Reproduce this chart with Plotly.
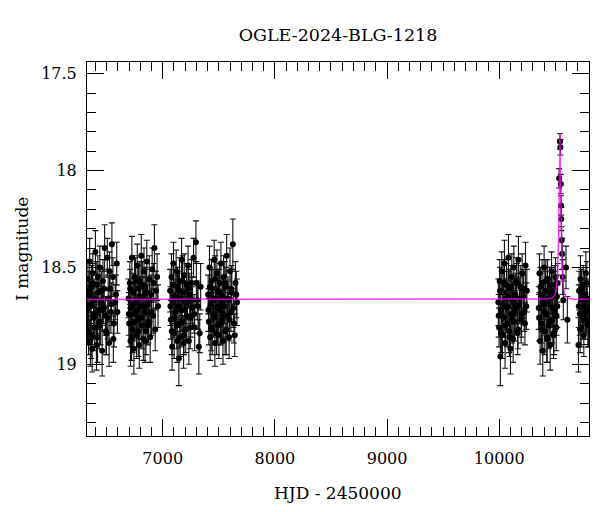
import plotly.graph_objects as go

# ---- photometry (HJD-2450000, I mag, error) ----
hjd_s1 = [6328, 6333, 6339, 6344, 6349, 6355, 6360, 6366, 6371, 6377, 6383, 6388, 6394, 6400, 6406, 6412, 6419, 6425, 6432, 6439,
          6446, 6453, 6460, 6467, 6474, 6482, 6490, 6498, 6506, 6514, 6522, 6530, 6538, 6547, 6556, 6566, 6577, 6590,
          6330, 6342, 6352, 6363, 6374, 6385, 6397, 6409, 6422, 6435, 6449, 6463, 6478, 6494, 6510, 6526, 6542, 6560, 6583, 6596]
mag_s1 = [18.71, 18.56, 18.83, 18.64, 18.47, 18.88, 18.69, 18.60, 18.92, 18.53, 18.76, 18.67, 18.81, 18.42, 18.74, 18.59, 18.86, 18.63, 18.72, 18.50,
          18.78, 18.62, 18.93, 18.57, 18.70, 18.40, 18.75, 18.84, 18.45, 18.66, 18.89, 18.61, 18.73, 18.38, 18.55, 18.79, 18.68, 18.48,
          18.78, 18.62, 18.70, 18.85, 18.58, 18.74, 18.66, 18.90, 18.55, 18.80, 18.68, 18.72, 18.61, 18.83, 18.76, 18.52, 18.69, 18.87, 18.64, 18.73]
err_s1 = [0.11, 0.10, 0.12, 0.09, 0.12, 0.13, 0.10, 0.11, 0.12, 0.10, 0.11, 0.09, 0.12, 0.11, 0.10, 0.12, 0.13, 0.09, 0.10, 0.11,
          0.12, 0.10, 0.13, 0.11, 0.09, 0.12, 0.10, 0.11, 0.10, 0.12, 0.12, 0.09, 0.11, 0.11, 0.10, 0.12, 0.09, 0.11,
          0.12, 0.10, 0.11, 0.12, 0.10, 0.11, 0.10, 0.13, 0.11, 0.12, 0.10, 0.11, 0.10, 0.12, 0.11, 0.10, 0.11, 0.12, 0.10, 0.11]

hjd_s2 = [6695, 6701, 6707, 6713, 6719, 6725, 6731, 6737, 6743, 6749, 6755, 6761, 6767, 6773, 6779, 6785, 6791, 6797, 6803, 6809,
          6815, 6821, 6827, 6833, 6839, 6845, 6851, 6858, 6865, 6872, 6880, 6888, 6897, 6906, 6915, 6926, 6940, 6958,
          6698, 6710, 6722, 6734, 6746, 6758, 6770, 6782, 6794, 6806, 6818, 6830, 6842, 6855, 6868, 6884, 6900, 6920, 6933, 6950]
mag_s2 = [18.66, 18.79, 18.58, 18.88, 18.71, 18.45, 18.82, 18.63, 18.92, 18.55, 18.74, 18.68, 18.85, 18.49, 18.77, 18.61, 18.90, 18.57, 18.70, 18.44,
          18.80, 18.65, 18.87, 18.52, 18.73, 18.60, 18.83, 18.47, 18.69, 18.78, 18.56, 18.86, 18.64, 18.51, 18.75, 18.40, 18.62, 18.70,
          18.74, 18.61, 18.86, 18.69, 18.78, 18.57, 18.72, 18.83, 18.65, 18.76, 18.59, 18.70, 18.88, 18.63, 18.80, 18.67, 18.73, 18.58, 18.82, 18.55]
err_s2 = [0.10, 0.12, 0.11, 0.13, 0.09, 0.11, 0.12, 0.10, 0.13, 0.11, 0.10, 0.09, 0.12, 0.11, 0.10, 0.12, 0.12, 0.10, 0.09, 0.11,
          0.12, 0.10, 0.11, 0.12, 0.09, 0.10, 0.12, 0.11, 0.10, 0.11, 0.12, 0.13, 0.10, 0.11, 0.09, 0.12, 0.10, 0.11,
          0.11, 0.10, 0.12, 0.11, 0.10, 0.12, 0.11, 0.13, 0.10, 0.11, 0.12, 0.10, 0.11, 0.12, 0.10, 0.11, 0.12, 0.10, 0.11, 0.12]

hjd_s3 = [7066, 7072, 7078, 7084, 7090, 7096, 7102, 7108, 7114, 7120, 7126, 7132, 7138, 7144, 7150, 7156, 7162, 7168, 7174, 7180,
          7186, 7192, 7198, 7205, 7212, 7219, 7226, 7233, 7241, 7249, 7257, 7266, 7275, 7285, 7296, 7308, 7322, 7338,
          7069, 7081, 7093, 7105, 7117, 7129, 7141, 7153, 7165, 7177, 7189, 7201, 7215, 7229, 7245, 7261, 7280, 7300, 7315, 7330]
mag_s3 = [18.62, 18.77, 18.55, 18.91, 18.68, 18.48, 18.84, 18.65, 18.73, 18.52, 18.80, 18.60, 18.70, 18.97, 18.57, 18.86, 18.66, 18.46, 18.78, 18.63,
          18.89, 18.54, 18.72, 18.82, 18.59, 18.68, 18.49, 18.88, 18.64, 18.76, 18.58, 18.71, 18.45, 18.81, 18.37, 18.67, 18.91, 18.60,
          18.70, 18.83, 18.59, 18.76, 18.66, 18.88, 18.62, 18.79, 18.72, 18.57, 18.85, 18.68, 18.75, 18.61, 18.81, 18.67, 18.74, 18.58, 18.70, 18.84]
err_s3 = [0.11, 0.10, 0.12, 0.12, 0.10, 0.11, 0.13, 0.09, 0.10, 0.11, 0.12, 0.10, 0.11, 0.14, 0.12, 0.10, 0.09, 0.11, 0.12, 0.10,
          0.13, 0.11, 0.10, 0.12, 0.11, 0.09, 0.10, 0.12, 0.11, 0.10, 0.12, 0.11, 0.10, 0.12, 0.11, 0.10, 0.14, 0.12,
          0.10, 0.12, 0.11, 0.10, 0.12, 0.11, 0.10, 0.12, 0.11, 0.13, 0.10, 0.11, 0.12, 0.10, 0.11, 0.12, 0.10, 0.11, 0.12, 0.10]

hjd_s4 = [7405, 7411, 7417, 7423, 7429, 7435, 7441, 7447, 7453, 7459, 7465, 7471, 7477, 7483, 7489, 7495, 7501, 7507, 7513, 7519,
          7525, 7531, 7537, 7543, 7549, 7556, 7563, 7570, 7577, 7584, 7592, 7600, 7608, 7616, 7625, 7635, 7648, 7662,
          7408, 7420, 7432, 7444, 7456, 7468, 7480, 7492, 7504, 7516, 7528, 7540, 7553, 7566, 7580, 7596, 7612, 7630, 7642, 7656]
mag_s4 = [18.64, 18.78, 18.50, 18.86, 18.69, 18.57, 18.82, 18.61, 18.74, 18.46, 18.89, 18.66, 18.71, 18.53, 18.80, 18.62, 18.85, 18.58, 18.72, 18.48,
          18.77, 18.65, 18.88, 18.55, 18.70, 18.83, 18.60, 18.44, 18.75, 18.67, 18.86, 18.52, 18.73, 18.63, 18.38, 18.79, 18.58, 18.68,
          18.72, 18.60, 18.81, 18.67, 18.76, 18.56, 18.84, 18.70, 18.63, 18.79, 18.68, 18.74, 18.58, 18.82, 18.66, 18.77, 18.61, 18.71, 18.85, 18.64]
err_s4 = [0.10, 0.12, 0.11, 0.12, 0.09, 0.11, 0.13, 0.10, 0.11, 0.10, 0.12, 0.09, 0.11, 0.12, 0.10, 0.11, 0.12, 0.10, 0.09, 0.11,
          0.12, 0.10, 0.12, 0.11, 0.09, 0.12, 0.10, 0.11, 0.12, 0.10, 0.11, 0.12, 0.10, 0.11, 0.13, 0.10, 0.11, 0.12,
          0.11, 0.10, 0.12, 0.11, 0.10, 0.12, 0.11, 0.10, 0.12, 0.11, 0.10, 0.12, 0.11, 0.13, 0.10, 0.11, 0.12, 0.10, 0.11, 0.12]

hjd_s5 = [9992, 9998, 10004, 10010, 10016, 10022, 10028, 10034, 10040, 10046, 10052, 10058, 10064, 10070, 10076, 10082, 10088, 10094, 10100, 10106,
          10112, 10118, 10124, 10130, 10136, 10143, 10150, 10157, 10164, 10171, 10179, 10187, 10195, 10204, 10213, 10223, 10234, 10246,
          9995, 10007, 10019, 10031, 10043, 10055, 10067, 10079, 10091, 10103, 10115, 10127, 10139, 10153, 10167, 10183, 10199, 10218, 10229, 10241]
mag_s5 = [18.68, 18.81, 18.57, 18.96, 18.72, 18.52, 18.85, 18.63, 18.76, 18.48, 18.89, 18.66, 18.59, 18.79, 18.70, 18.45, 18.83, 18.61, 18.92, 18.74,
          18.55, 18.67, 18.87, 18.50, 18.78, 18.64, 18.71, 18.58, 18.84, 18.46, 18.69, 18.60, 18.77, 18.53, 18.65, 18.73, 18.49, 18.62,
          18.75, 18.62, 18.84, 18.69, 18.58, 18.80, 18.71, 18.65, 18.86, 18.60, 18.77, 18.68, 18.73, 18.57, 18.82, 18.66, 18.74, 18.61, 18.79, 18.70]
err_s5 = [0.12, 0.10, 0.11, 0.15, 0.11, 0.10, 0.12, 0.11, 0.10, 0.12, 0.13, 0.10, 0.11, 0.12, 0.10, 0.12, 0.11, 0.10, 0.13, 0.11,
          0.12, 0.10, 0.12, 0.11, 0.10, 0.11, 0.12, 0.10, 0.11, 0.12, 0.10, 0.11, 0.12, 0.10, 0.11, 0.10, 0.12, 0.11,
          0.11, 0.12, 0.10, 0.11, 0.12, 0.10, 0.11, 0.13, 0.10, 0.11, 0.12, 0.10, 0.11, 0.12, 0.10, 0.11, 0.12, 0.10, 0.11, 0.12]

hjd_s6 = [10352, 10358, 10364, 10370, 10376, 10382, 10388, 10394, 10400, 10406, 10412, 10418, 10424, 10430, 10436, 10442, 10448, 10454, 10460, 10466,
          10472, 10478, 10484, 10490, 10496, 10502, 10508, 10514, 10520,
          10355, 10367, 10379, 10391, 10403, 10415, 10427, 10439, 10451, 10463, 10475, 10487, 10499, 10511, 10517]
mag_s6 = [18.71, 18.53, 18.88, 18.64, 18.79, 18.58, 18.93, 18.67, 18.50, 18.83, 18.62, 18.74, 18.87, 18.56, 18.69, 18.80, 18.60, 18.90, 18.66, 18.52,
          18.77, 18.63, 18.85, 18.59, 18.72, 18.55, 18.81, 18.65, 18.58,
          18.76, 18.60, 18.82, 18.69, 18.73, 18.57, 18.86, 18.66, 18.78, 18.62, 18.71, 18.84, 18.64, 18.75, 18.70]
err_s6 = [0.11, 0.10, 0.12, 0.11, 0.10, 0.12, 0.13, 0.10, 0.11, 0.12, 0.10, 0.11, 0.12, 0.10, 0.11, 0.12, 0.10, 0.13, 0.11, 0.10,
          0.12, 0.11, 0.12, 0.10, 0.11, 0.10, 0.12, 0.11, 0.10,
          0.12, 0.10, 0.11, 0.12, 0.10, 0.11, 0.13, 0.10, 0.11, 0.12, 0.10, 0.11, 0.12, 0.10, 0.11]

# points on the magnification peak
hjd_ev = [10534, 10541, 10545, 10549, 10551, 10553, 10556, 10561, 10566, 10571, 10595, 10607]
mag_ev = [18.04, 17.85, 17.88, 18.07, 18.18, 18.25, 18.36, 18.43, 18.55, 18.67, 18.50, 18.77]
err_ev = [0.05, 0.04, 0.04, 0.05, 0.05, 0.06, 0.07, 0.08, 0.09, 0.10, 0.11, 0.12]

hjd_s7 = [10706, 10712, 10718, 10724, 10730, 10736, 10742, 10748, 10754, 10760, 10766, 10772, 10778, 10784, 10790,
          10709, 10721, 10733, 10745, 10757, 10769, 10781, 10795]
mag_s7 = [18.90, 18.62, 18.74, 18.56, 18.81, 18.67, 18.70, 18.59, 18.85, 18.64, 18.77, 18.53, 18.72, 18.66, 18.80,
          18.70, 18.82, 18.61, 18.76, 18.68, 18.73, 18.58, 18.79]
err_s7 = [0.14, 0.10, 0.11, 0.12, 0.10, 0.11, 0.12, 0.10, 0.11, 0.12, 0.10, 0.11, 0.12, 0.10, 0.11,
          0.11, 0.12, 0.10, 0.11, 0.12, 0.10, 0.11, 0.12]

# ---- model light curve ----
hjd_model = [6300, 10380, 10440, 10470, 10490, 10501, 10509, 10516, 10521, 10526, 10531, 10535, 10538, 10541,
             10544, 10547, 10551, 10556, 10561, 10566, 10573, 10581, 10596, 10620, 10660, 10820]
mag_model = [18.665, 18.665, 18.663, 18.658, 18.648, 18.635, 18.61, 18.57, 18.50, 18.41, 18.29, 18.12, 17.97, 17.81,
             17.97, 18.12, 18.29, 18.41, 18.50, 18.57, 18.61, 18.635, 18.652, 18.66, 18.664, 18.665]

seasons = [(hjd_s1, mag_s1, err_s1), (hjd_s2, mag_s2, err_s2), (hjd_s3, mag_s3, err_s3),
           (hjd_s4, mag_s4, err_s4), (hjd_s5, mag_s5, err_s5), (hjd_s6, mag_s6, err_s6),
           (hjd_ev, mag_ev, err_ev), (hjd_s7, mag_s7, err_s7)]

FONT = "DejaVu Serif"
fig = go.Figure()
for t, m, e in seasons:
    n = min(len(t), len(m), len(e))
    fig.add_trace(go.Scatter(
        x=t[:n], y=m[:n], mode="markers",
        marker=dict(color="black", size=6),
        error_y=dict(type="data", array=e[:n], visible=True, color="#111111", thickness=1.1, width=3),
        showlegend=False, hoverinfo="skip"))

fig.add_trace(go.Scatter(x=hjd_model, y=mag_model, mode="lines",
                         line=dict(color="#ff00ff", width=1.5), opacity=0.75,
                         showlegend=False, hoverinfo="skip"))

axis_common = dict(showline=True, linecolor="black", linewidth=1, mirror="ticks",
                   ticks="inside", tickcolor="black", showgrid=False, zeroline=False,
                   tickfont=dict(family=FONT, size=16, color="black"))

fig.update_xaxes(range=[6325, 10800], dtick=1000, tick0=0, ticklen=17, tickformat="d",
                 exponentformat="none", ticklabelstandoff=8,
                 minor=dict(dtick=100, tick0=0, ticklen=9, ticks="inside", tickcolor="black"),
                 **axis_common)
fig.update_yaxes(range=[19.37, 17.44], dtick=0.5, tick0=0, ticklen=17, ticklabelstandoff=6,
                 minor=dict(dtick=0.1, tick0=0, ticklen=9, ticks="inside", tickcolor="black"),
                 **axis_common)

# the page body adds an 8 px margin, so the figure is 8 px smaller than the window
fig.update_layout(
    width=592, height=504,
    margin=dict(l=79, r=11, t=54, b=76),
    paper_bgcolor="white", plot_bgcolor="white",
    title=dict(text="OGLE-2024-BLG-1218", x=0.5, xref="paper", y=1 - 27 / 504, yref="container",
               xanchor="center", yanchor="middle", font=dict(family=FONT, size=17.5, color="black")),
    annotations=[
        dict(text="HJD - 2450000", xref="paper", yref="paper", x=0.5, y=-0.152,
             xanchor="center", yanchor="middle", showarrow=False,
             font=dict(family=FONT, size=17, color="black")),
        dict(text="I magnitude", xref="paper", yref="paper", x=-0.1295, y=0.5, textangle=-90,
             xanchor="center", yanchor="middle", showarrow=False,
             font=dict(family=FONT, size=17, color="black")),
    ],
)

fig.write_html("out.html")
